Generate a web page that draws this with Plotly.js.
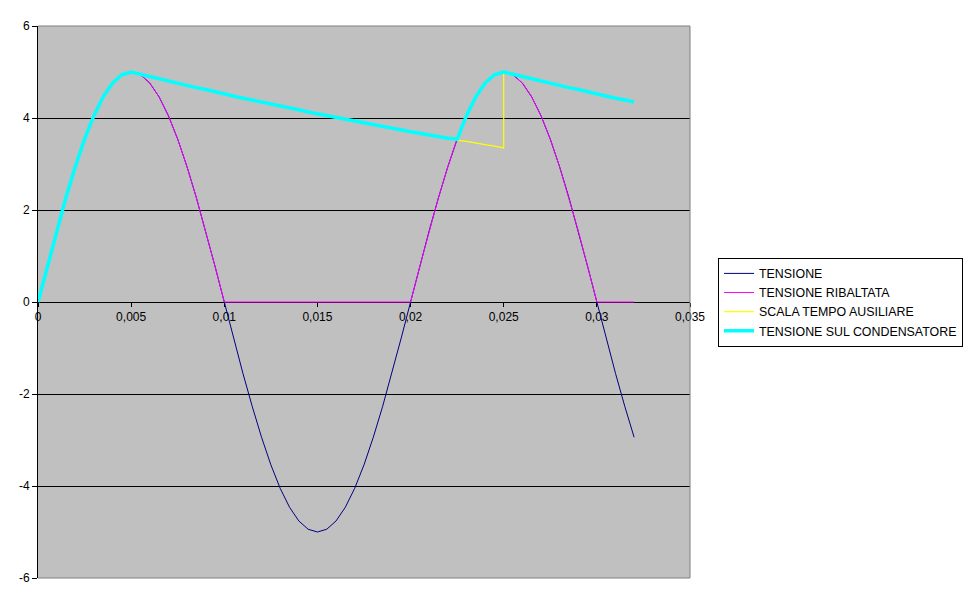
<!DOCTYPE html>
<html>
<head>
<meta charset="utf-8">
<script src="https://cdn.plot.ly/plotly-3.0.1.min.js"></script>
<style>
  html, body { margin: 0; padding: 0; background: #ffffff; }
  #grafico { width: 970px; height: 604px; }
</style>
</head>
<body>
<div id="grafico"></div>
<script>
// tempo (s)
const tempo = [
  0, 0.0005, 0.001, 0.0015, 0.002, 0.0025, 0.003, 0.0035, 0.004, 0.0045,
  0.005, 0.0055, 0.006, 0.0065, 0.007, 0.0075, 0.008, 0.0085, 0.009, 0.0095,
  0.01, 0.0105, 0.011, 0.0115, 0.012, 0.0125, 0.013, 0.0135, 0.014, 0.0145,
  0.015, 0.0155, 0.016, 0.0165, 0.017, 0.0175, 0.018, 0.0185, 0.019, 0.0195,
  0.02, 0.0205, 0.021, 0.0215, 0.022, 0.0225, 0.023, 0.0235, 0.024, 0.0245,
  0.025, 0.0255, 0.026, 0.0265, 0.027, 0.0275, 0.028, 0.0285, 0.029, 0.0295,
  0.03, 0.0305, 0.031, 0.0315, 0.032
];

const tensione = [
  0, 0.78, 1.55, 2.27, 2.94, 3.54, 4.05, 4.46, 4.76, 4.94,
  5, 4.94, 4.76, 4.46, 4.05, 3.54, 2.94, 2.27, 1.55, 0.78,
  0, -0.78, -1.55, -2.27, -2.94, -3.54, -4.05, -4.46, -4.76, -4.94,
  -5, -4.94, -4.76, -4.46, -4.05, -3.54, -2.94, -2.27, -1.55, -0.78,
  0, 0.78, 1.55, 2.27, 2.94, 3.54, 4.05, 4.46, 4.76, 4.94,
  5, 4.94, 4.76, 4.46, 4.05, 3.54, 2.94, 2.27, 1.55, 0.78,
  0, -0.78, -1.55, -2.27, -2.94
];

const ribaltata = [
  0, 0.78, 1.55, 2.27, 2.94, 3.54, 4.05, 4.46, 4.76, 4.94,
  5, 4.94, 4.76, 4.46, 4.05, 3.54, 2.94, 2.27, 1.55, 0.78,
  0, 0, 0, 0, 0, 0, 0, 0, 0, 0,
  0, 0, 0, 0, 0, 0, 0, 0, 0, 0,
  0, 0.78, 1.55, 2.27, 2.94, 3.54, 4.05, 4.46, 4.76, 4.94,
  5, 4.94, 4.76, 4.46, 4.05, 3.54, 2.94, 2.27, 1.55, 0.78,
  0, 0, 0, 0, 0
];

// scala tempo ausiliare: scarica dal picco, poi ritorna al picco
const ausiliareT = [
  0.005, 0.0055, 0.006, 0.0065, 0.007, 0.0075, 0.008, 0.0085, 0.009, 0.0095,
  0.01, 0.0105, 0.011, 0.0115, 0.012, 0.0125, 0.013, 0.0135, 0.014, 0.0145,
  0.015, 0.0155, 0.016, 0.0165, 0.017, 0.0175, 0.018, 0.0185, 0.019, 0.0195,
  0.02, 0.0205, 0.021, 0.0215, 0.022, 0.0225, 0.023, 0.0235, 0.024, 0.0245,
  0.025, 0.025, 0.0255, 0.026, 0.0265, 0.027, 0.0275, 0.028, 0.0285, 0.029,
  0.0295, 0.03, 0.0305, 0.031, 0.0315, 0.032
];
const ausiliare = [
  5, 4.95, 4.9, 4.85, 4.8, 4.76, 4.71, 4.66, 4.62, 4.57,
  4.52, 4.48, 4.43, 4.39, 4.35, 4.3, 4.26, 4.22, 4.18, 4.13,
  4.09, 4.05, 4.01, 3.97, 3.93, 3.89, 3.86, 3.82, 3.78, 3.74,
  3.7, 3.67, 3.63, 3.6, 3.56, 3.52, 3.49, 3.45, 3.42, 3.39,
  3.35, 5, 4.95, 4.9, 4.85, 4.8, 4.76, 4.71, 4.66, 4.62,
  4.57, 4.52, 4.48, 4.43, 4.39, 4.35
];

const condensatore = [
  0, 0.78, 1.55, 2.27, 2.94, 3.54, 4.05, 4.46, 4.76, 4.94,
  5, 4.95, 4.9, 4.85, 4.8, 4.76, 4.71, 4.66, 4.62, 4.57,
  4.52, 4.48, 4.43, 4.39, 4.35, 4.3, 4.26, 4.22, 4.18, 4.13,
  4.09, 4.05, 4.01, 3.97, 3.93, 3.89, 3.86, 3.82, 3.78, 3.74,
  3.7, 3.67, 3.63, 3.6, 3.56, 3.54, 4.05, 4.46, 4.76, 4.94,
  5, 4.95, 4.9, 4.85, 4.8, 4.76, 4.71, 4.66, 4.62, 4.57,
  4.52, 4.48, 4.43, 4.39, 4.35
];

const nomi = ["TENSIONE", "TENSIONE RIBALTATA", "SCALA TEMPO AUSILIARE", "TENSIONE SUL CONDENSATORE"];
const yTicks = [-6, -4, -2, 0, 2, 4, 6];
const xTicks = [0, 0.005, 0.01, 0.015, 0.02, 0.025, 0.03, 0.035];

const font = { family: "Arial, 'Liberation Sans', sans-serif", size: 12, color: "#000000" };
const fontLegenda = { family: "Arial, 'Liberation Sans', sans-serif", size: 12.4, color: "#000000" };

const tracce = [
  { x: tempo, y: tensione, name: nomi[0], type: "scatter", mode: "lines",
    line: { color: "#000080", width: 1 } },
  { x: tempo, y: ribaltata, name: nomi[1], type: "scatter", mode: "lines",
    line: { color: "#FF00FF", width: 1 } },
  { x: ausiliareT, y: ausiliare, name: nomi[2], type: "scatter", mode: "lines",
    line: { color: "#FFFF00", width: 1.2 } },
  { x: tempo, y: condensatore, name: nomi[3], type: "scatter", mode: "lines",
    line: { color: "#00FFFF", width: 3.5 } }
];

const grigio = "#808080";

const layout = {
  width: 970,
  height: 604,
  margin: { l: 38, r: 280, t: 26, b: 26, autoexpand: false },
  paper_bgcolor: "#ffffff",
  plot_bgcolor: "#C0C0C0",
  font: font,
  showlegend: true,
  legend: {
    x: 1.043, y: 0.58, xanchor: "left", yanchor: "top",
    bgcolor: "#ffffff", bordercolor: "#000000", borderwidth: 1,
    font: fontLegenda, traceorder: "normal", itemwidth: 30,
    tracegroupgap: 0
  },
  xaxis: {
    range: [0, 0.035],
    tickvals: xTicks,
    ticktext: xTicks.map(v => String(v).replace(".", ",")),
    anchor: "free",
    position: 0.5,
    showgrid: false,
    zeroline: false,
    showline: true,
    linecolor: "#000000",
    linewidth: 1,
    ticks: "outside",
    ticklen: 4,
    tickcolor: "#000000",
    layer: "below traces",
    tickfont: font,
    automargin: false,
    fixedrange: true
  },
  yaxis: {
    range: [-6, 6],
    tickvals: yTicks,
    ticktext: yTicks.map(v => String(v)),
    showgrid: true,
    gridcolor: "#000000",
    gridwidth: 1,
    zeroline: false,
    showline: true,
    linecolor: "#000000",
    linewidth: 1,
    ticks: "outside",
    ticklen: 5,
    tickcolor: "#000000",
    tickfont: font,
    layer: "below traces",
    automargin: false,
    fixedrange: true
  },
  shapes: [
    { type: "line", xref: "paper", yref: "paper", x0: 0, x1: 1, y0: 1, y1: 1, line: { color: grigio, width: 1 } },
    { type: "line", xref: "paper", yref: "paper", x0: 1, x1: 1, y0: 0, y1: 1, line: { color: grigio, width: 1 } },
    { type: "line", xref: "paper", yref: "paper", x0: 0, x1: 1, y0: 0, y1: 0, line: { color: grigio, width: 1 } }
  ]
};

Plotly.newPlot("grafico", tracce, layout, { staticPlot: true, displayModeBar: false });
</script>
</body>
</html>
